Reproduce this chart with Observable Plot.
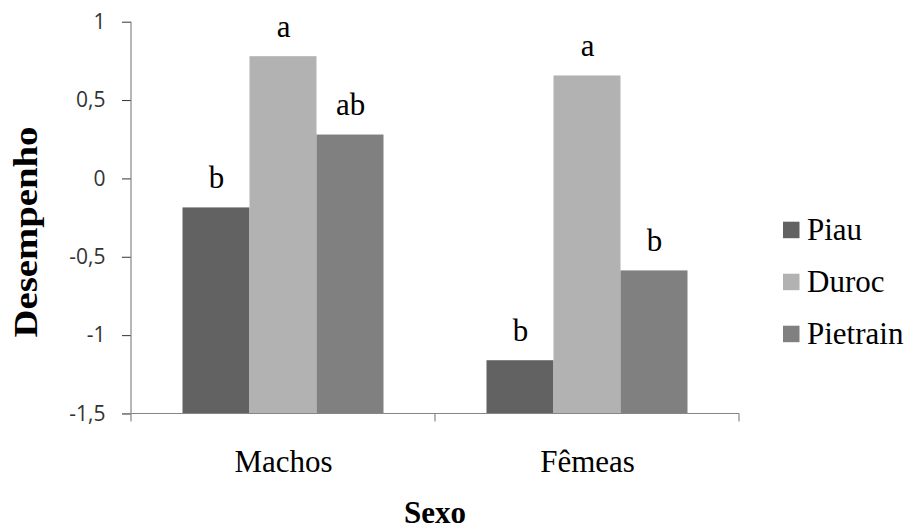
<!DOCTYPE html>
<html><head><meta charset="utf-8">
<script src="https://cdn.jsdelivr.net/npm/d3@7"></script>
<script src="https://cdn.jsdelivr.net/npm/@observablehq/plot@0.6"></script>
<style>
body{margin:0;background:#fff}
#chart{position:relative;width:909px;height:529px;overflow:hidden}
</style>
</head><body><div id="chart"></div>
<script>
const sexes = ["Machos", "Fêmeas"];
const breeds = ["Piau", "Duroc", "Pietrain"];
const valuesMachos = [-0.185, 0.78, 0.28];
const valuesFemeas = [-1.16, 0.657, -0.587];
const lettersMachos = ["b", "a", "ab"];
const lettersFemeas = ["b", "a", "b"];
const breedColors = ["#626262", "#b2b2b2", "#808080"];
const yTicks = [-1.5, -1, -0.5, 0, 0.5, 1];
const yLabel = "Desempenho";
const xLabel = "Sexo";

const yMin = yTicks[0], yMax = yTicks[yTicks.length - 1];
const data = [];
breeds.forEach((b, i) => data.push({sex: sexes[0], breed: b, value: valuesMachos[i], letter: lettersMachos[i]}));
breeds.forEach((b, i) => data.push({sex: sexes[1], breed: b, value: valuesFemeas[i], letter: lettersFemeas[i]}));

const serif = "Liberation Serif, Times New Roman, Times, Tinos, DejaVu Serif, Noto Serif, serif";
const sans = "Open Sans, Liberation Sans, sans-serif";
const axisGray = "#868686";

const plot = Plot.plot({
  width: 909, height: 529,
  marginLeft: 130.5, marginRight: 169, marginTop: 21.7, marginBottom: 115.5,
  style: {background: "white", overflow: "visible"},
  fx: {domain: sexes, paddingInner: 0, paddingOuter: 0},
  x: {domain: breeds, paddingInner: 0, paddingOuter: 0.746, axis: null},
  y: {domain: [yMin, yMax]},
  color: {domain: breeds, range: breedColors},
  marks: [
    Plot.barY(data, {fx: "sex", x: "breed", y1: yMin, y2: "value", fill: "breed"}),
    Plot.text(data, {fx: "sex", x: "breed", y: "value", text: "letter", dy: -20, lineAnchor: "bottom",
      fontSize: 31, fontFamily: serif, fill: "#000"}),
    Plot.axisY({ticks: yTicks, tickFormat: d => String(d).replace(".", ","), tickSize: 9, tickPadding: 17,
      fontSize: 21, fontFamily: sans, label: null, color: "#333"}),
    Plot.axisFx({anchor: "bottom", tickSize: 0, tickPadding: 36, fontSize: 31, fontFamily: serif,
      label: null, color: "#000"})
  ]
});
document.getElementById("chart").appendChild(plot);

const svg = d3.select(plot);
svg.selectAll('[aria-label="y-axis tick"]').attr("stroke", axisGray);
const fx = plot.scale("fx"), y = plot.scale("y");
const y0 = y.apply(yMin), yTop = y.apply(yMax);
const bounds = sexes.map(s => fx.apply(s));
const left = bounds[0];
const right = bounds[bounds.length - 1] + fx.bandwidth;
bounds.push(right);

const g = svg.append("g").attr("stroke", axisGray).attr("stroke-width", 1.2);
g.append("line").attr("x1", left).attr("x2", left).attr("y1", yTop).attr("y2", y0);
g.append("line").attr("x1", left - 9).attr("x2", right).attr("y1", y0).attr("y2", y0);
bounds.forEach(b => g.append("line").attr("x1", b).attr("x2", b).attr("y1", y0).attr("y2", y0 + 8));

svg.append("text").text(yLabel)
  .attr("transform", `translate(36.5,232) rotate(-90) scale(1.14,1)`)
  .attr("text-anchor", "middle").style("font-family", serif).attr("font-weight", "bold")
  .attr("font-size", 34).attr("fill", "#000");

svg.append("text").text(xLabel)
  .attr("x", (left + right) / 2).attr("y", 523)
  .attr("text-anchor", "middle").style("font-family", serif).attr("font-weight", "bold")
  .attr("font-size", 31).attr("fill", "#000");

const leg = svg.append("g").attr("transform", "translate(783,221.7)");
breeds.forEach((b, i) => {
  const row = leg.append("g").attr("transform", `translate(0,${i * 52})`);
  row.append("rect").attr("width", 16.5).attr("height", 16.5).attr("fill", breedColors[i]);
  row.append("text").text(b).attr("x", 24).attr("y", 18).attr("text-anchor", "start")
    .style("font-family", serif).attr("font-size", 31).attr("fill", "#000");
});
</script>
</body></html>
